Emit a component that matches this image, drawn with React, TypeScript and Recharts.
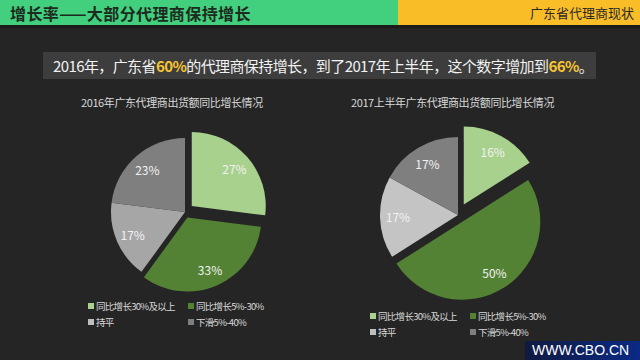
import React from 'react';
import { PieChart, Pie, Cell, Sector } from 'recharts';

const categories = ['同比增长30%及以上', '同比增长5%-30%', '持平', '下滑5%-40%'];
const values2016 = [27, 33, 17, 23];
const values2017H1 = [16, 50, 17, 17];

const colorsLeft = ['#a9d18e', '#548235', '#a6a6a6', '#7f7f7f'];
const colorsRight = ['#a9d18e', '#548235', '#c4c4c4', '#7f7f7f'];
const explodeLeft = [9, 6, 0, 0];
const explodeRight = [12, 8, 0, 0];

const data2016 = categories.map((name, i) => ({ name, value: values2016[i] }));
const data2017 = categories.map((name, i) => ({ name, value: values2017H1[i] }));

const RAD = Math.PI / 180;
const FONT = '"Noto Sans CJK SC", "Noto Sans", sans-serif';

function idxOf(p: any): number {
  const n = p.name ?? (p.payload && p.payload.name);
  const i = categories.indexOf(n);
  return i < 0 ? 0 : i;
}

const makeShape = (explode: number[]) => (props: any) => {
  const i = idxOf(props);
  const off = explode[i];
  const dx = off * Math.cos(-props.midAngle * RAD);
  const dy = off * Math.sin(-props.midAngle * RAD);
  return <Sector {...props} cx={props.cx + dx} cy={props.cy + dy} stroke="none" />;
};

const makeLabel = (explode: number[]) => (props: any) => {
  const i = idxOf(props);
  const r = props.outerRadius * 0.77 + explode[i];
  const x = props.cx + r * Math.cos(-props.midAngle * RAD);
  const y = props.cy + r * Math.sin(-props.midAngle * RAD);
  return (
    <text x={x} y={y} fill="#f2f2f2" fontSize={12} fontFamily={FONT} textAnchor="middle" dominantBaseline="central">
      {`${props.value}%`}
    </text>
  );
};

function LegendBox({ left, top, colors }: { left: number; top: number; colors: string[] }) {
  const cols = [0, 100];
  return (
    <div style={{ position: 'absolute', left, top, width: 220, fontFamily: FONT, fontSize: 9.5, color: '#d9d9d9', letterSpacing: -0.7 }}>
      {categories.map((c, i) => (
        <div
          key={c}
          style={{
            position: 'absolute',
            left: cols[i % 2],
            top: Math.floor(i / 2) * 16,
            whiteSpace: 'nowrap',
            display: 'flex',
            alignItems: 'center',
            lineHeight: '14px',
          }}
        >
          <span style={{ display: 'inline-block', width: 6, height: 6, background: colors[i], marginRight: 2 }} />
          {c}
        </div>
      ))}
    </div>
  );
}

export default function App() {
  return (
    <div style={{ position: 'fixed', left: 0, top: 0, width: 640, height: 360, background: '#252525', overflow: 'hidden', fontFamily: FONT }}>
      <div style={{ position: 'absolute', left: 0, top: 0, width: 398, height: 25, background: '#42d07e' }} />
      <div style={{ position: 'absolute', left: 398, top: 0, width: 242, height: 25, background: '#f8bd27' }} />
      <div style={{ position: 'absolute', left: 0, top: 25, width: 640, height: 3, background: '#1b1b1b' }} />
      <div style={{ position: 'absolute', left: 10, top: 2, fontSize: 16, fontWeight: 700, color: '#1d2a20', lineHeight: '22px', whiteSpace: 'nowrap', letterSpacing: 0.4 }}>
        增长率——大部分代理商保持增长
      </div>
      <div style={{ position: 'absolute', right: 6, top: 4, fontSize: 13, color: '#2a2a2a', lineHeight: '18px', whiteSpace: 'nowrap' }}>
        广东省代理商现状
      </div>

      <div style={{ position: 'absolute', left: 43, top: 52, width: 553, height: 27, background: '#3d3d3d' }} />
      <div style={{ position: 'absolute', left: 53, top: 52, height: 27, lineHeight: '27px', fontSize: 15, color: '#f2f2f2', whiteSpace: 'nowrap', letterSpacing: -0.6 }}>
        2016年，广东省<b style={{ color: '#f8c530' }}>60%</b>的代理商保持增长，到了2017年上半年，这个数字增加到<b style={{ color: '#f8c530' }}>66%</b>。
      </div>

      <div style={{ position: 'absolute', left: 81, top: 95, fontSize: 11, color: '#d9d9d9', whiteSpace: 'nowrap', lineHeight: '14px', letterSpacing: -0.4 }}>
        2016年广东代理商出货额同比增长情况
      </div>
      <div style={{ position: 'absolute', left: 351, top: 95, fontSize: 11, color: '#d9d9d9', whiteSpace: 'nowrap', lineHeight: '14px', letterSpacing: -0.4 }}>
        2017上半年广东代理商出货额同比增长情况
      </div>

      <div style={{ position: 'absolute', left: 0, top: 0 }}>
        <PieChart width={640} height={360}>
          <Pie
            data={data2016}
            dataKey="value"
            nameKey="name"
            cx={180}
            cy={207}
            outerRadius={74}
            startAngle={90}
            endAngle={-270}
            stroke="none"
            isAnimationActive={false}
            shape={makeShape(explodeLeft)}
            label={makeLabel(explodeLeft)}
            labelLine={false}
          >
            {data2016.map((d, i) => (
              <Cell key={d.name} fill={colorsLeft[i]} />
            ))}
          </Pie>
          <Pie
            data={data2017}
            dataKey="value"
            nameKey="name"
            cx={453}
            cy={210}
            outerRadius={78}
            startAngle={90}
            endAngle={-270}
            stroke="none"
            isAnimationActive={false}
            shape={makeShape(explodeRight)}
            label={makeLabel(explodeRight)}
            labelLine={false}
          >
            {data2017.map((d, i) => (
              <Cell key={d.name} fill={colorsRight[i]} />
            ))}
          </Pie>
        </PieChart>
      </div>

      <LegendBox left={88} top={299} colors={['#a9d18e', '#548235', '#bfbfbf', '#7f7f7f']} />
      <LegendBox left={370} top={309} colors={['#a9d18e', '#548235', '#bfbfbf', '#7f7f7f']} />

      <div style={{ position: 'absolute', left: 525, top: 341, width: 115, height: 19, background: 'linear-gradient(90deg, #101a40 0%, #0b2a86 100%)' }} />
      <div style={{ position: 'absolute', left: 532, top: 341, height: 19, lineHeight: '19px', fontSize: 14, color: '#ffffff', fontFamily: '"Liberation Sans", Arial, sans-serif', whiteSpace: 'nowrap' }}>
        WWW.CBO.CN
      </div>
    </div>
  );
}
